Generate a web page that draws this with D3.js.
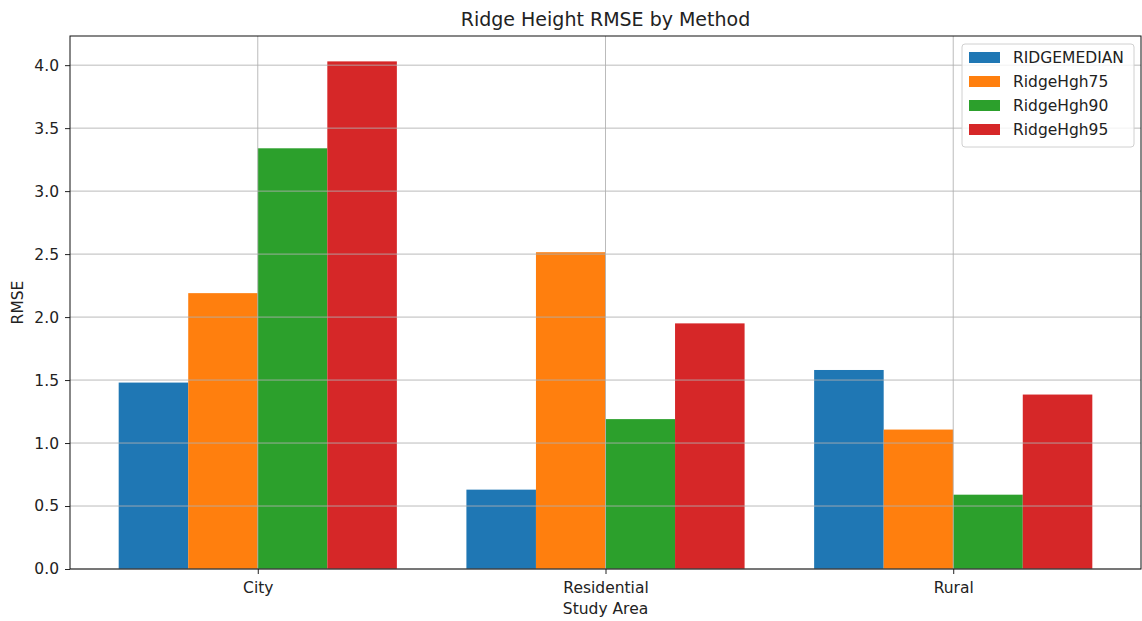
<!DOCTYPE html>
<html>
<head>
<meta charset="utf-8">
<script src="https://cdn.jsdelivr.net/npm/d3@7"></script>
<style>
  body { margin: 0; background: #fff; }
  svg text { font-family: "DejaVu Sans", sans-serif; fill: #222; }
</style>
</head>
<body>
<div id="chart"></div>
<script>
// data
const areas = ["City", "Residential", "Rural"];
const methods = ["RIDGEMEDIAN", "RidgeHgh75", "RidgeHgh90", "RidgeHgh95"];
const ridgeMedian = [1.48, 0.63, 1.58];
const ridgeHgh75 = [2.19, 2.515, 1.107];
const ridgeHgh90 = [3.34, 1.19, 0.59];
const ridgeHgh95 = [4.03, 1.95, 1.385];
const colors = ["#1f77b4", "#ff7f0e", "#2ca02c", "#d62728"];
const yTicks = [0, 0.5, 1, 1.5, 2, 2.5, 3, 3.5, 4];

const seriesVals = [ridgeMedian, ridgeHgh75, ridgeHgh90, ridgeHgh95];
const rows = [];
methods.forEach((m, j) => areas.forEach((a, i) => rows.push({area: i, method: j, value: seriesVals[j][i]})));

const W = 1142, H = 621;
const margin = {top: 36, right: 1, bottom: 52, left: 70};
const w = W - margin.left - margin.right, h = H - margin.top - margin.bottom;
const fs = "15.5px";

const svg = d3.select("#chart").append("svg").attr("width", W).attr("height", H);
const g = svg.append("g").attr("transform", `translate(${margin.left},${margin.top})`);

const barW = 0.2;
const x = d3.scaleLinear().domain([-0.54, 2.54]).range([0, w]);
const yMax = d3.max(rows, d => d.value) * 1.05;
const y = d3.scaleLinear().domain([0, yMax]).range([h, 0]);

// bars
g.selectAll("rect.bar").data(rows).enter().append("rect")
  .attr("class", "bar")
  .attr("x", d => x(d.area + (d.method - 2) * barW))
  .attr("width", d => x(barW) - x(0))
  .attr("y", d => y(d.value))
  .attr("height", d => y(0) - y(d.value))
  .attr("fill", d => colors[d.method]);

// grid (drawn over bars)
g.append("g").selectAll("line").data(yTicks).enter().append("line")
  .attr("x1", 0).attr("x2", w)
  .attr("y1", d => y(d)).attr("y2", d => y(d))
  .attr("stroke", "#b0b0b0").attr("stroke-width", 1).attr("opacity", 0.85);
g.append("g").selectAll("line").data(d3.range(areas.length)).enter().append("line")
  .attr("x1", d => x(d)).attr("x2", d => x(d))
  .attr("y1", 0).attr("y2", h)
  .attr("stroke", "#b0b0b0").attr("stroke-width", 1).attr("opacity", 0.85);

// axes
const xAxis = g.append("g").attr("transform", `translate(0,${h})`)
  .call(d3.axisBottom(x).tickValues(d3.range(areas.length)).tickFormat(i => areas[i]).tickSize(5).tickPadding(8));
const yAxis = g.append("g")
  .call(d3.axisLeft(y).tickValues(yTicks).tickFormat(d3.format(".1f")).tickSize(5).tickPadding(6));
[xAxis, yAxis].forEach(a => {
  a.select(".domain").remove();
  a.selectAll("text").style("font-size", fs).style("font-family", "DejaVu Sans, sans-serif").attr("fill", "#222");
  a.selectAll(".tick line").attr("stroke", "#222");
});

// frame
g.append("rect").attr("x", 0).attr("y", 0).attr("width", w).attr("height", h)
  .attr("fill", "none").attr("stroke", "#111").attr("stroke-width", 1);

// labels
svg.append("text").attr("x", margin.left + w / 2).attr("y", 26).attr("text-anchor", "middle")
  .style("font-size", "19px").text("Ridge Height RMSE by Method");
svg.append("text").attr("x", margin.left + x(1)).attr("y", 614).attr("text-anchor", "middle")
  .style("font-size", fs).text("Study Area");
svg.append("text").attr("transform", `translate(23,${margin.top + h / 2}) rotate(-90)`)
  .attr("text-anchor", "middle").style("font-size", fs).text("RMSE");

// legend
const lg = svg.append("g").attr("transform", "translate(962,44)");
lg.append("rect").attr("width", 172).attr("height", 103).attr("rx", 3)
  .attr("fill", "#fff").attr("fill-opacity", 0.8).attr("stroke", "#d0d0d0");
methods.forEach((m, j) => {
  const row = lg.append("g").attr("transform", `translate(0,${13 + j * 24})`);
  row.append("rect").attr("x", 7).attr("y", -5).attr("width", 31).attr("height", 11).attr("fill", colors[j]);
  row.append("text").attr("x", 51).attr("y", 6).style("font-size", fs).text(m);
});
</script>
</body>
</html>
